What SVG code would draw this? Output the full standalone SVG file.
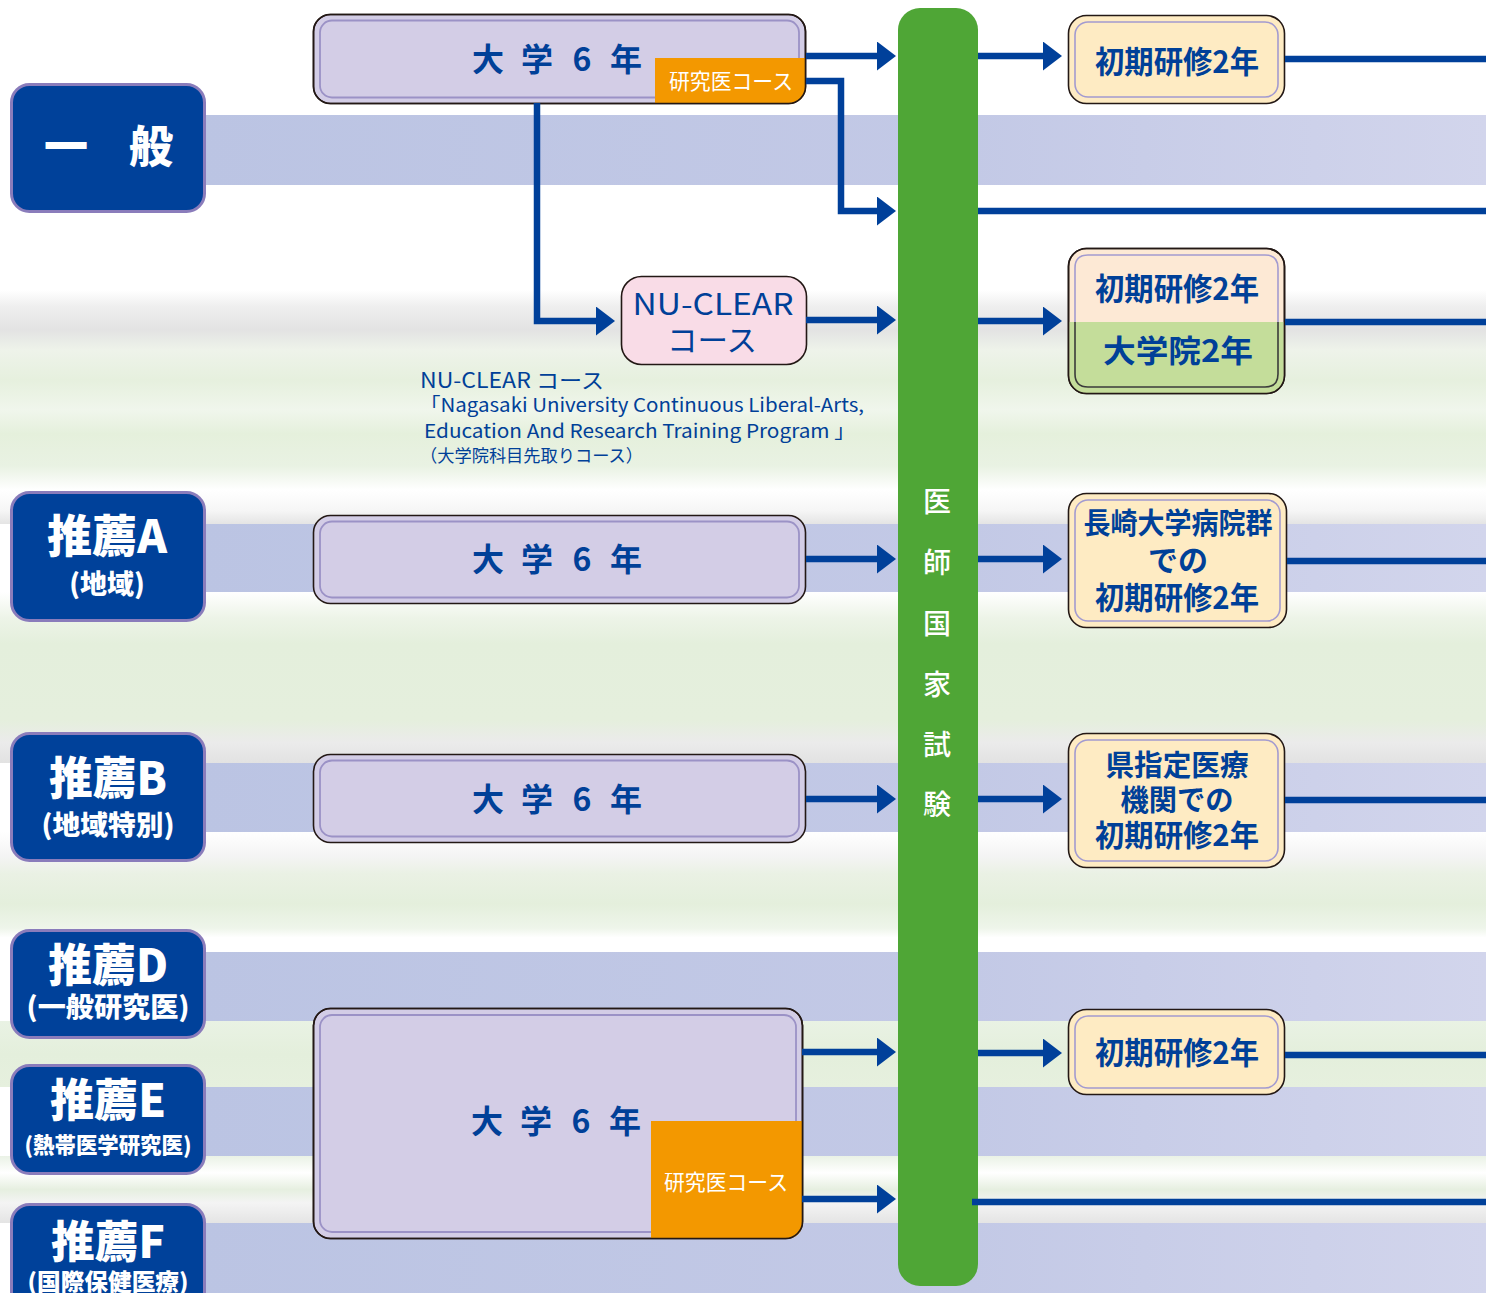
<svg xmlns="http://www.w3.org/2000/svg" width="1486" height="1293" viewBox="0 0 1486 1293">
<style>
.t{font-family:"Noto Sans CJK JP","Noto Sans",sans-serif}
.cat{font-family:"Noto Sans CJK JP",sans-serif;font-weight:900;fill:#fff;text-anchor:middle}
.catbox{fill:#00419a;stroke:#8a7cbb;stroke-width:3}
.uni{fill:#d3cde6;stroke:#231815;stroke-width:1.6}
.uniin{fill:none;stroke:#9b92c6;stroke-width:1.8}
.res{fill:#feebc3;stroke:#231815;stroke-width:1.6}
.resin{fill:none;stroke:#a39bd0;stroke-width:1.6}
.bt{font-family:"Noto Sans CJK JP",sans-serif;font-weight:700;fill:#004098;text-anchor:middle}
.wt{font-family:"Noto Sans CJK JP",sans-serif;fill:#fff;text-anchor:middle}
.band{fill:url(#bandG)}
.con{fill:none;stroke:#00409a;stroke-width:6.5}
</style>
<defs>
<linearGradient id="bandG" x1="0" y1="0" x2="1" y2="0">
<stop offset="0" stop-color="#bbc4e3"/><stop offset="0.6" stop-color="#c3c9e6"/><stop offset="1" stop-color="#d2d5ec"/>
</linearGradient>
<linearGradient id="s1" x1="0" y1="0" x2="0" y2="1">
<stop offset="0" stop-color="#fff"/><stop offset="0.08" stop-color="#efefef"/><stop offset="0.2" stop-color="#e3e3e3"/><stop offset="0.3" stop-color="#eef3ea"/><stop offset="0.45" stop-color="#e6f0de"/><stop offset="0.6" stop-color="#f0f6ec"/><stop offset="0.72" stop-color="#e5f0dc"/><stop offset="0.88" stop-color="#e9f2e3"/><stop offset="1" stop-color="#fff"/>
</linearGradient>
<linearGradient id="s2" x1="0" y1="0" x2="0" y2="1">
<stop offset="0" stop-color="#fff"/><stop offset="0.6" stop-color="#f6f6f6"/><stop offset="1" stop-color="#e4e4e4"/>
</linearGradient>
<linearGradient id="s3" x1="0" y1="0" x2="0" y2="1">
<stop offset="0" stop-color="#fff"/><stop offset="0.15" stop-color="#edf4e8"/><stop offset="0.3" stop-color="#e4efdc"/><stop offset="0.75" stop-color="#e5efdd"/><stop offset="0.88" stop-color="#ebebeb"/><stop offset="1" stop-color="#e2e2e2"/>
</linearGradient>
<linearGradient id="s4" x1="0" y1="0" x2="0" y2="1">
<stop offset="0" stop-color="#fff"/><stop offset="0.2" stop-color="#f4f4f4"/><stop offset="0.35" stop-color="#eaf1e4"/><stop offset="0.6" stop-color="#e4efdc"/><stop offset="0.8" stop-color="#eef5ea"/><stop offset="0.88" stop-color="#fff"/><stop offset="1" stop-color="#fff"/>
</linearGradient>
<linearGradient id="s5" x1="0" y1="0" x2="0" y2="1">
<stop offset="0" stop-color="#e9f2e4"/><stop offset="0.5" stop-color="#e4efdc"/><stop offset="1" stop-color="#e6f0de"/>
</linearGradient>
<linearGradient id="s6" x1="0" y1="0" x2="0" y2="1">
<stop offset="0" stop-color="#eaf2e6"/><stop offset="0.25" stop-color="#fff"/><stop offset="0.5" stop-color="#e6efe0"/><stop offset="0.7" stop-color="#f4f4f4"/><stop offset="1" stop-color="#e4e4e4"/>
</linearGradient>
<marker id="ah" markerUnits="userSpaceOnUse" markerWidth="22" markerHeight="30" refX="4" refY="14.5" orient="auto">
<path d="M0,0 L19,14.5 L0,29 z" fill="#00409a"/>
</marker>
</defs>

<g id="background">
<rect x="0" y="0" width="1486" height="1293" fill="#fff"/>
<rect x="0" y="290" width="1486" height="200" fill="url(#s1)"/>
<rect x="0" y="490" width="1486" height="34" fill="url(#s2)"/>
<rect x="0" y="592" width="1486" height="171" fill="url(#s3)"/>
<rect x="0" y="832" width="1486" height="120" fill="url(#s4)"/>
<rect x="0" y="1021" width="1486" height="66" fill="url(#s5)"/>
<rect x="0" y="1156" width="1486" height="67" fill="url(#s6)"/>
<rect class="band" x="200" y="115" width="1286" height="70"/>
<rect class="band" x="200" y="524" width="1286" height="68"/>
<rect class="band" x="200" y="763" width="1286" height="69"/>
<rect class="band" x="200" y="952" width="1286" height="69"/>
<rect class="band" x="200" y="1087" width="1286" height="69"/>
<rect class="band" x="200" y="1223" width="1286" height="70"/>
</g>

<g id="node-ippan">
<rect class="catbox" x="11.5" y="84.5" width="193" height="127" rx="18"/>
<text class="cat" x="66 151" y="163" font-size="44">一般</text>
</g>
<g id="node-suisenA">
<rect class="catbox" x="11.5" y="492.5" width="193" height="128" rx="18"/>
<text class="cat" x="107" y="553" font-size="45" textLength="120" lengthAdjust="spacingAndGlyphs">推薦A</text>
<text class="cat" x="107" y="594" font-size="27">(地域)</text>
</g>
<g id="node-suisenB">
<rect class="catbox" x="11.5" y="733.5" width="193" height="127" rx="18"/>
<text class="cat" x="108" y="795" font-size="45" textLength="118" lengthAdjust="spacingAndGlyphs">推薦B</text>
<text class="cat" x="108" y="835" font-size="27" textLength="133" lengthAdjust="spacingAndGlyphs">(地域特別)</text>
</g>
<g id="node-suisenD">
<rect class="catbox" x="11.5" y="930.5" width="193" height="107" rx="18"/>
<text class="cat" x="108" y="982" font-size="45" textLength="120" lengthAdjust="spacingAndGlyphs">推薦D</text>
<text class="cat" x="108" y="1017" font-size="27" textLength="163" lengthAdjust="spacingAndGlyphs">(一般研究医)</text>
</g>
<g id="node-suisenE">
<rect class="catbox" x="11.5" y="1065.5" width="193" height="108" rx="18"/>
<text class="cat" x="108" y="1117" font-size="45" textLength="116" lengthAdjust="spacingAndGlyphs">推薦E</text>
<text class="cat" x="108" y="1153" font-size="22" textLength="167" lengthAdjust="spacingAndGlyphs">(熱帯医学研究医)</text>
</g>
<g id="node-suisenF">
<rect class="catbox" x="11.5" y="1204.5" width="193" height="110" rx="18"/>
<text class="cat" x="108" y="1258" font-size="44" textLength="114" lengthAdjust="spacingAndGlyphs">推薦F</text>
<text class="cat" x="108" y="1290" font-size="23" textLength="161" lengthAdjust="spacingAndGlyphs">(国際保健医療)</text>
</g>

<g id="node-univ-top">
<rect class="uni" x="313.5" y="14.5" width="492" height="89" rx="17"/>
<rect class="uniin" x="320" y="20.5" width="479" height="77" rx="12"/>
<path d="M655,58 H805.5 V86 Q805.5,103 788.5,103 H655 Z" fill="#f39800"/>
<rect x="313.5" y="14.5" width="492" height="89" rx="17" fill="none" stroke="#231815" stroke-width="1.6"/>
<text class="bt" x="488 512 537 560 582 604 626" y="71" font-size="32">大 学 6 年</text>
<text class="wt" x="731" y="89" font-size="22" textLength="124" lengthAdjust="spacingAndGlyphs">研究医コース</text>
</g>

<g id="node-nuclear">
<rect x="621.5" y="276.5" width="185" height="88" rx="20" fill="#f9dce7" stroke="#231815" stroke-width="1.6"/>
<text class="t" x="713" y="315" font-size="30" fill="#004098" text-anchor="middle" textLength="161" lengthAdjust="spacingAndGlyphs">NU-CLEAR</text>
<text class="t" x="712" y="351" font-size="30" fill="#004098" text-anchor="middle" textLength="90" lengthAdjust="spacingAndGlyphs">コース</text>
</g>

<g id="nuclear-note" fill="#004098">
<text class="t" x="420" y="388" font-size="21" textLength="184" lengthAdjust="spacingAndGlyphs">NU-CLEAR コース</text>
<text class="t" x="420" y="412" font-size="19" textLength="444" lengthAdjust="spacingAndGlyphs">「Nagasaki University Continuous Liberal-Arts,</text>
<text class="t" x="424" y="438" font-size="19" textLength="431" lengthAdjust="spacingAndGlyphs">Education And Research Training Program 」</text>
<text class="t" x="420" y="462" font-size="17.5" textLength="223" lengthAdjust="spacingAndGlyphs">（大学院科目先取りコース）</text>
</g>

<g id="node-univ-A">
<rect class="uni" x="313.5" y="515.5" width="492" height="88" rx="17"/>
<rect class="uniin" x="320" y="521.5" width="479" height="76" rx="12"/>
<text class="bt" x="488 512 537 560 582 604 626" y="571" font-size="32">大 学 6 年</text>
</g>
<g id="node-univ-B">
<rect class="uni" x="313.5" y="754.5" width="492" height="88" rx="17"/>
<rect class="uniin" x="320" y="760.5" width="479" height="76" rx="12"/>
<text class="bt" x="488 512 537 560 582 604 626" y="811" font-size="32">大 学 6 年</text>
</g>
<g id="node-univ-DEF">
<rect class="uni" x="313.5" y="1008.5" width="489" height="230" rx="17"/>
<rect class="uniin" x="320" y="1015" width="476" height="217" rx="12"/>
<path d="M651,1121 H802.5 V1221 Q802.5,1238.5 785.5,1238.5 H651 Z" fill="#f39800"/>
<rect x="313.5" y="1008.5" width="489" height="230" rx="17" fill="none" stroke="#231815" stroke-width="1.6"/>
<text class="bt" x="487 511 536 559 581 603 625" y="1133" font-size="32">大 学 6 年</text>
<text class="wt" x="726" y="1190" font-size="22" textLength="124" lengthAdjust="spacingAndGlyphs">研究医コース</text>
</g>

<g id="node-exam">
<rect x="898" y="8" width="80" height="1278" rx="22" fill="#4fa636"/>
<g class="wt" font-size="28" font-weight="500" dominant-baseline="central">
<text x="937" y="500">医</text>
<text x="937" y="561">師</text>
<text x="937" y="622">国</text>
<text x="937" y="683">家</text>
<text x="937" y="743">試</text>
<text x="937" y="803">験</text>
</g>
</g>

<g id="node-kenshu-top">
<rect class="res" x="1068.5" y="15.5" width="216" height="88" rx="18"/>
<rect class="resin" x="1075" y="22" width="203" height="75" rx="13"/>
<text class="bt" x="1177" y="73" font-size="31" textLength="164" lengthAdjust="spacingAndGlyphs">初期研修2年</text>
</g>

<g id="node-kenshu-daigakuin">
<rect x="1068.5" y="248.5" width="216" height="145" rx="18" fill="#fde9d5" stroke="#231815" stroke-width="1.6"/>
<path d="M1069.3,322 H1283.7 V375 Q1283.7,393 1265.5,393 H1087.5 Q1069.3,393 1069.3,375 Z" fill="#c4dd9a"/>
<path d="M1075,322 V268 Q1075,255 1088,255 H1265 Q1278,255 1278,268 V322" class="resin"/>
<path d="M1075,322 V374 Q1075,387 1088,387 H1265 Q1278,387 1278,374 V322" fill="none" stroke="#3b3b3b" stroke-width="1.6"/>
<rect x="1068.5" y="248.5" width="216" height="145" rx="18" fill="none" stroke="#231815" stroke-width="1.6"/>
<text class="bt" x="1177" y="300" font-size="31" textLength="164" lengthAdjust="spacingAndGlyphs">初期研修2年</text>
<text class="bt" x="1178" y="362" font-size="31" textLength="150" lengthAdjust="spacingAndGlyphs">大学院2年</text>
</g>

<g id="node-kenshu-nagasaki">
<rect class="res" x="1068.5" y="493.5" width="218" height="134" rx="18"/>
<rect class="resin" x="1075" y="500" width="205" height="121" rx="13"/>
<text class="bt" x="1178" y="534" font-size="29" textLength="189" lengthAdjust="spacingAndGlyphs">長崎大学病院群</text>
<text class="bt" x="1178" y="571" font-size="30">での</text>
<text class="bt" x="1177" y="609" font-size="31" textLength="164" lengthAdjust="spacingAndGlyphs">初期研修2年</text>
</g>

<g id="node-kenshu-ken">
<rect class="res" x="1068.5" y="733.5" width="216" height="134" rx="18"/>
<rect class="resin" x="1075" y="740" width="203" height="121" rx="13"/>
<text class="bt" x="1177" y="776" font-size="29" textLength="143" lengthAdjust="spacingAndGlyphs">県指定医療</text>
<text class="bt" x="1177" y="811" font-size="29" textLength="113" lengthAdjust="spacingAndGlyphs">機関での</text>
<text class="bt" x="1177" y="846" font-size="30" textLength="164" lengthAdjust="spacingAndGlyphs">初期研修2年</text>
</g>

<g id="node-kenshu-bottom">
<rect class="res" x="1068.5" y="1009.5" width="216" height="85" rx="18"/>
<rect class="resin" x="1075" y="1016" width="203" height="72" rx="13"/>
<text class="bt" x="1177" y="1064" font-size="31" textLength="164" lengthAdjust="spacingAndGlyphs">初期研修2年</text>
</g>

<g id="connectors">
<path class="con" d="M806,56 H881" marker-end="url(#ah)"/>
<path class="con" d="M806,81 H841 V211 H881" marker-end="url(#ah)"/>
<path class="con" d="M537,103 V321 H600" marker-end="url(#ah)"/>
<path class="con" d="M806,320 H881" marker-end="url(#ah)"/>
<path class="con" d="M978,56 H1047" marker-end="url(#ah)"/>
<path class="con" d="M978,211 H1486"/>
<path class="con" d="M978,321 H1047" marker-end="url(#ah)"/>
<path class="con" d="M1285,59 H1486"/>
<path class="con" d="M1285,322 H1486"/>
<path class="con" d="M806,559 H881" marker-end="url(#ah)"/>
<path class="con" d="M978,559 H1047" marker-end="url(#ah)"/>
<path class="con" d="M1287,561 H1486"/>
<path class="con" d="M806,799 H881" marker-end="url(#ah)"/>
<path class="con" d="M978,799 H1047" marker-end="url(#ah)"/>
<path class="con" d="M1285,800 H1486"/>
<path class="con" d="M802,1052 H881" marker-end="url(#ah)"/>
<path class="con" d="M978,1053 H1047" marker-end="url(#ah)"/>
<path class="con" d="M1285,1055 H1486"/>
<path class="con" d="M802,1199 H881" marker-end="url(#ah)"/>
<path class="con" d="M972,1202 H1486"/>
</g>
</svg>
